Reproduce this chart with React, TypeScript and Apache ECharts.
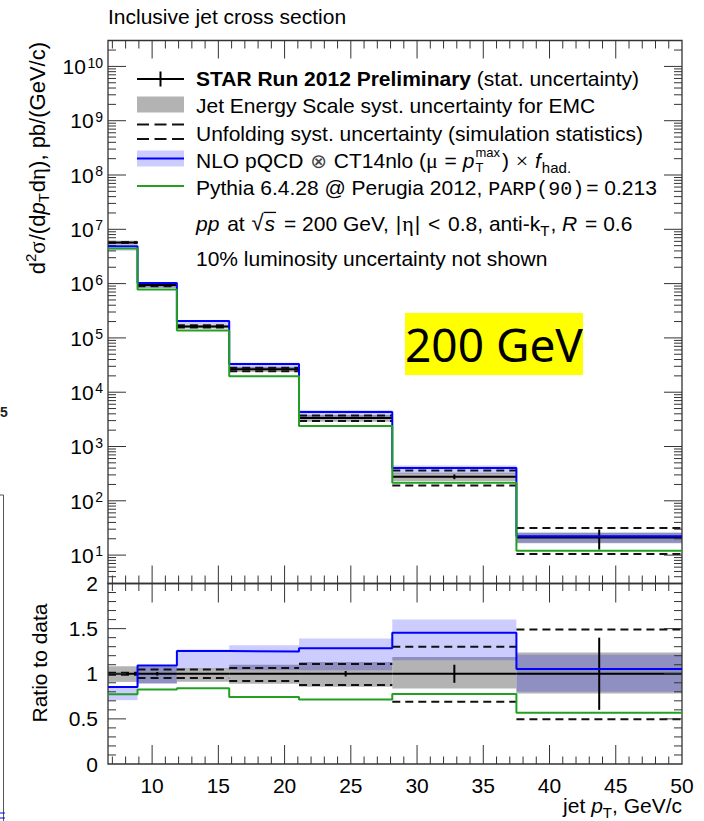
import React, { useEffect, useRef } from "react";
import * as echarts from "echarts";

// Jet pT bin edges, GeV/c
const binEdges = [6.67, 8.9, 11.87, 15.82, 21.09, 28.13, 37.5, 50];
// STAR Run 2012 measured cross section, pb/(GeV/c)
const starXsec = [5.7e6, 9.4e5, 1.63e5, 2.65e4, 3.35e3, 278, 21.1];
// relative statistical uncertainty
const starStatRel = [0.003, 0.02, 0.005, 0.005, 0.03, 0.1, 0.4];
// jet energy scale systematic band, relative to data
const jesLow = [0.91, 0.895, 0.91, 0.89, 0.855, 0.836, 0.78];
const jesHigh = [1.083, 1.08, 1.064, 1.1, 1.13, 1.185, 1.235];
// unfolding systematic, relative to data
const unfoldLow = [0.99, 0.954, 0.954, 0.92, 0.876, 0.69, 0.497];
const unfoldHigh = [1.01, 1.046, 1.046, 1.064, 1.108, 1.3, 1.49];
// NLO pQCD x f_had, pb/(GeV/c)
const nloXsec = [4.86e6, 1.025e6, 2.04e5, 3.3e4, 4.3e3, 404, 22.2];
// NLO scale band, as ratio to data
const nloBandLow = [0.707, 0.89, 1.06, 1.04, 1.04, 1.15, 0.8];
const nloBandHigh = [0.853, 1.09, 1.27, 1.315, 1.39, 1.6, 1.21];
// Pythia 6.4.28 Perugia 2012, pb/(GeV/c)
const pythiaXsec = [4.41e6, 7.76e5, 1.37e5, 1.97e4, 2.39e3, 216, 12.0];

const ptTickLabels = [10, 15, 20, 25, 30, 35, 40, 45, 50];
const ratioTickLabels = [0, 0.5, 1, 1.5, 2];
const xsecDecades = [1, 2, 3, 4, 5, 6, 7, 8, 9, 10];

const X_MIN = 6.67;
const X_MAX = 50;
const XS_MIN = 3;
const XS_MAX = 3e10;
const R_MIN = 0;
const R_MAX = 2;

const SANS = "'Liberation Sans', Arial, Helvetica, sans-serif";
const SERIF = "'Liberation Serif', 'Times New Roman', serif";
const MONO = "'Liberation Mono', 'Courier New', monospace";
const SYMBOL = "'DejaVu Sans', sans-serif";
const NOTO = "'Noto Sans', sans-serif";

// distance from the alphabetic baseline to the "central" baseline, in em
const CENTRAL_SHIFT: Record<string, number> = {
  [SANS]: 0.3467,
  [SERIF]: 0.3375,
  [MONO]: 0.2665,
  [SYMBOL]: 0.346,
  [NOTO]: 0.388,
};

const GRAY = "#b3b3b3";
const BLUE_BAND = "rgba(0,0,255,0.2)";
const BLUE = "#0000ff";
const GREEN = "#22a022";
const FRAME = "#333";

let measureCtx: CanvasRenderingContext2D | null = null;
function textWidth(text: string, size: number, family = SANS, bold = false, italic = false): number {
  if (!measureCtx) measureCtx = document.createElement("canvas").getContext("2d");
  if (!measureCtx) return text.length * size * 0.5;
  measureCtx.font = `${italic ? "italic " : ""}${bold ? "bold " : ""}${size}px ${family}`;
  return measureCtx.measureText(text).width;
}

function textEl(
  text: string,
  x: number,
  baseline: number,
  size: number,
  family = SANS,
  opts: { bold?: boolean; italic?: boolean; color?: string; align?: string } = {}
): any {
  const align = opts.align || "left";
  return {
    type: "text",
    x,
    y: baseline - (CENTRAL_SHIFT[family] ?? 0.35) * size,
    silent: true,
    style: {
      text,
      fontSize: size,
      fontFamily: family,
      fontWeight: opts.bold ? "bold" : "normal",
      fontStyle: opts.italic ? "italic" : "normal",
      fill: opts.color || "#000",
      align,
      textAlign: align,
      verticalAlign: "middle",
      textVerticalAlign: "middle",
    },
  };
}

type Run = {
  t: string;
  size?: number;
  bold?: boolean;
  italic?: boolean;
  family?: string;
  dy?: number;
  hold?: boolean;
  overline?: boolean;
  color?: string;
  gap?: number;
};

// lays text runs out left to right on a common baseline at local y = 0
function layoutRuns(runs: Run[], baseSize: number) {
  let x = 0;
  let heldEnd = -Infinity;
  const children: any[] = [];
  for (const r of runs) {
    const size = r.size ?? baseSize;
    const family = r.family ?? SANS;
    const w = textWidth(r.t, size, family, r.bold, r.italic);
    children.push(textEl(r.t, x, r.dy ?? 0, size, family, { bold: r.bold, italic: r.italic, color: r.color }));
    if (r.overline) {
      children.push({
        type: "line",
        silent: true,
        shape: { x1: x - 1, y1: -0.86 * size, x2: x + w + 1, y2: -0.86 * size },
        style: { stroke: "#000", lineWidth: 1.3 },
      });
    }
    if (r.hold) {
      heldEnd = Math.max(heldEnd, x + w);
    } else {
      x = Math.max(x + w, heldEnd) + (r.gap ?? 0);
      heldEnd = -Infinity;
    }
  }
  return { children, width: x };
}

function bandSeries(g: number, rows: number[][], fill: string): any {
  return {
    type: "custom",
    coordinateSystem: "cartesian2d",
    xAxisIndex: g,
    yAxisIndex: g,
    encode: { x: [0, 1], y: [2, 3] },
    silent: true,
    clip: false,
    data: rows,
    renderItem: (_p: any, api: any) => {
      const a = api.coord([api.value(0), api.value(3)]);
      const b = api.coord([api.value(1), api.value(2)]);
      return {
        type: "rect",
        shape: { x: a[0], y: a[1], width: b[0] - a[0], height: b[1] - a[1] },
        style: { fill },
      };
    },
  };
}

function dashedPairSeries(g: number, rows: number[][]): any {
  return {
    type: "custom",
    coordinateSystem: "cartesian2d",
    xAxisIndex: g,
    yAxisIndex: g,
    encode: { x: [0, 1], y: [2, 3] },
    silent: true,
    clip: false,
    data: rows,
    renderItem: (_p: any, api: any) => {
      const x0 = api.value(0);
      const x1 = api.value(1);
      const children = [api.value(2), api.value(3)].map((v: number) => {
        const a = api.coord([x0, v]);
        const b = api.coord([x1, v]);
        return {
          type: "line",
          shape: { x1: a[0], y1: a[1], x2: b[0], y2: b[1] },
          style: { stroke: "#111", lineWidth: 2, lineDash: [8, 5] },
        };
      });
      return { type: "group", children };
    },
  };
}

function stepSeries(g: number, vals: number[], color: string): any {
  return {
    type: "line",
    xAxisIndex: g,
    yAxisIndex: g,
    step: "end",
    symbol: "none",
    silent: true,
    clip: false,
    lineStyle: { color, width: 2 },
    data: binEdges.map((e, i) => [e, vals[Math.min(i, vals.length - 1)]]),
  };
}

function pointsSeries(g: number, vals: number[], rel: number[]): any {
  return {
    type: "custom",
    coordinateSystem: "cartesian2d",
    xAxisIndex: g,
    yAxisIndex: g,
    encode: { x: [0, 1], y: [2, 3, 4] },
    silent: true,
    clip: false,
    data: vals.map((v, i) => [binEdges[i], binEdges[i + 1], v, v * (1 - rel[i]), v * (1 + rel[i])]),
    renderItem: (_p: any, api: any) => {
      const x0 = api.value(0);
      const x1 = api.value(1);
      const v = api.value(2);
      const xc = (x0 + x1) / 2;
      const a = api.coord([x0, v]);
      const b = api.coord([x1, v]);
      const c1 = api.coord([xc, api.value(3)]);
      const c2 = api.coord([xc, api.value(4)]);
      return {
        type: "group",
        children: [
          { type: "line", shape: { x1: a[0], y1: a[1], x2: b[0], y2: b[1] }, style: { stroke: "#000", lineWidth: 2 } },
          { type: "line", shape: { x1: c1[0], y1: c1[1], x2: c2[0], y2: c2[1] }, style: { stroke: "#000", lineWidth: 2 } },
        ],
      };
    },
  };
}

// rows: [x, y, kind (0 = x tick, 1 = y tick), length]
function tickSeries(g: number, rows: number[][], yLo: number, yHi: number): any {
  return {
    type: "custom",
    coordinateSystem: "cartesian2d",
    xAxisIndex: g,
    yAxisIndex: g,
    encode: { x: 0, y: 1 },
    silent: true,
    clip: false,
    data: rows,
    renderItem: (_p: any, api: any) => {
      const kind = api.value(2);
      const len = api.value(3);
      const st = { stroke: FRAME, lineWidth: 1 };
      if (kind === 0) {
        const x = api.value(0);
        const b = api.coord([x, yLo]);
        const t = api.coord([x, yHi]);
        return {
          type: "group",
          children: [
            { type: "line", shape: { x1: b[0], y1: b[1], x2: b[0], y2: b[1] - len }, style: st },
            { type: "line", shape: { x1: t[0], y1: t[1], x2: t[0], y2: t[1] + len }, style: st },
          ],
        };
      }
      const y = api.value(1);
      const l = api.coord([X_MIN, y]);
      const r = api.coord([X_MAX, y]);
      return {
        type: "group",
        children: [
          { type: "line", shape: { x1: l[0], y1: l[1], x2: l[0] + len, y2: l[1] }, style: st },
          { type: "line", shape: { x1: r[0], y1: r[1], x2: r[0] - len, y2: r[1] }, style: st },
        ],
      };
    },
  };
}

function frameSeries(g: number, yLo: number, yHi: number): any {
  return {
    type: "custom",
    coordinateSystem: "cartesian2d",
    xAxisIndex: g,
    yAxisIndex: g,
    encode: { x: [0, 2], y: [1, 3] },
    silent: true,
    clip: false,
    data: [[X_MIN, yLo, X_MAX, yHi]],
    renderItem: (_p: any, api: any) => {
      const a = api.coord([api.value(0), api.value(3)]);
      const b = api.coord([api.value(2), api.value(1)]);
      return {
        type: "rect",
        shape: { x: a[0], y: a[1], width: b[0] - a[0], height: b[1] - a[1] },
        style: { fill: "none", stroke: FRAME, lineWidth: 1.3 },
      };
    },
  };
}

// "10^n" labels of the logarithmic cross-section axis
function logLabelSeries(): any {
  return {
    type: "custom",
    coordinateSystem: "cartesian2d",
    xAxisIndex: 0,
    yAxisIndex: 0,
    encode: { x: 0, y: 1 },
    silent: true,
    clip: false,
    data: xsecDecades.map((k) => [X_MIN, Math.pow(10, k)]),
    renderItem: (p: any, api: any) => {
      const pt = api.coord([api.value(0), api.value(1)]);
      const exp = String(xsecDecades[p.dataIndex]);
      const right = pt[0] - 5;
      const ew = textWidth(exp, 14);
      return {
        type: "group",
        children: [
          textEl(exp, right, pt[1] + 1, 14, SANS, { align: "right" }),
          textEl("10", right - ew - 1.5, pt[1] + 7.5, 21, SANS, { align: "right" }),
        ],
      };
    },
  };
}

function buildOption(): any {
  const ones = starXsec.map(() => 1);
  const nloRatio = nloXsec.map((v, i) => v / starXsec[i]);
  const pythiaRatio = pythiaXsec.map((v, i) => v / starXsec[i]);
  const rowsFor = (lo: number[], hi: number[], scale: number[]) =>
    lo.map((l, i) => [binEdges[i], binEdges[i + 1], l * scale[i], hi[i] * scale[i]]);

  const xTicks = (yRef: number, major: number, minor: number) => {
    const rows: number[][] = [];
    for (let v = 7; v < 50; v++) rows.push([v, yRef, 0, v % 5 === 0 ? major : minor]);
    return rows;
  };
  const topTicks = xTicks(10, 18, 8);
  for (let k = 0; k <= 10; k++) {
    for (let m = 1; m <= 9; m++) {
      const v = m * Math.pow(10, k);
      if (v >= XS_MIN && v <= XS_MAX) topTicks.push([10, v, 1, m === 1 ? 18 : 8]);
    }
  }
  const ratioTicks = xTicks(1, 19, 7.5);
  for (let j = 1; j < 20; j++) ratioTicks.push([10, j / 10, 1, j % 5 === 0 ? 18 : 8]);

  const hidden = {
    axisLine: { show: false },
    axisTick: { show: false },
    splitLine: { show: false },
  };

  // legend text rows
  const legendRows: { baseline: number; runs: Run[] }[] = [
    { baseline: 86, runs: [{ t: "STAR Run 2012 Preliminary", bold: true }, { t: " (stat. uncertainty)" }] },
    { baseline: 113, runs: [{ t: "Jet Energy Scale syst. uncertainty for EMC" }] },
    { baseline: 140.5, runs: [{ t: "Unfolding syst. uncertainty (simulation statistics)" }] },
    {
      baseline: 167.5,
      runs: [
        { t: "NLO pQCD ", gap: 1 },
        { t: "\u2297", family: SYMBOL, size: 20, color: "#444", gap: 1 },
        { t: " CT14nlo (" },
        { t: "\u03bc", family: SERIF, size: 22, gap: 1 },
        { t: " = " },
        { t: "p", italic: true, gap: 1 },
        { t: "T", size: 13, dy: 4.5, hold: true },
        { t: "max", size: 13, dy: -10.3, gap: 2 },
        { t: ") ", gap: 1 },
        { t: "\u00d7", family: SERIF, size: 22, gap: 1 },
        { t: " " },
        { t: "f", italic: true, gap: 1 },
        { t: "had.", size: 15, dy: 5 },
      ],
    },
    {
      baseline: 195,
      runs: [{ t: "Pythia 6.4.28 @ Perugia 2012, " }, { t: "PARP(90)", family: MONO, size: 20, gap: 2 }, { t: "= 0.213" }],
    },
    {
      baseline: 230.5,
      runs: [
        { t: "pp", italic: true, gap: 2 },
        { t: " at ", gap: 1 },
        { t: "\u221a", size: 22, gap: 1 },
        { t: "s", italic: true, overline: true, gap: 3 },
        { t: " = 200 GeV, ", gap: 1 },
        { t: "|", gap: 1 },
        { t: "\u03b7", family: SERIF, size: 22, gap: 1 },
        { t: "|", gap: 2 },
        { t: " < ", gap: 2 },
        { t: "0.8, anti-k" },
        { t: "T", size: 15, dy: 5, gap: 1 },
        { t: ", " },
        { t: "R", italic: true, gap: 2 },
        { t: " = 0.6" },
      ],
    },
    { baseline: 266, runs: [{ t: "10% luminosity uncertainty not shown" }] },
  ];

  const legendText = legendRows.map((r) => ({
    type: "group",
    x: 196,
    y: r.baseline,
    children: layoutRuns(r.runs, 21).children,
  }));

  const legendSymbols: any[] = [
    { type: "line", shape: { x1: 137, y1: 79, x2: 184, y2: 79 }, style: { stroke: "#000", lineWidth: 2 } },
    { type: "line", shape: { x1: 160.5, y1: 71.5, x2: 160.5, y2: 86.5 }, style: { stroke: "#000", lineWidth: 2 } },
    { type: "rect", shape: { x: 137, y: 96.5, width: 47, height: 16 }, style: { fill: GRAY } },
    { type: "line", shape: { x1: 137, y1: 124.5, x2: 184, y2: 124.5 }, style: { stroke: "#111", lineWidth: 2, lineDash: [12, 5.5] } },
    { type: "line", shape: { x1: 137, y1: 139, x2: 184, y2: 139 }, style: { stroke: "#111", lineWidth: 2, lineDash: [12, 5.5] } },
    { type: "rect", shape: { x: 137, y: 150.5, width: 47, height: 16 }, style: { fill: BLUE_BAND } },
    { type: "line", shape: { x1: 137, y1: 158.5, x2: 184, y2: 158.5 }, style: { stroke: BLUE, lineWidth: 2 } },
    { type: "line", shape: { x1: 137, y1: 186, x2: 184, y2: 186 }, style: { stroke: GREEN, lineWidth: 2 } },
  ];

  const yTitle = layoutRuns(
    [
      { t: "d" },
      { t: "2", size: 15, dy: -9 },
      { t: "\u03c3", family: SERIF, size: 23, gap: 1 },
      { t: "/(d" },
      { t: "p", italic: true },
      { t: "T", size: 15, dy: 4, gap: 1 },
      { t: "d" },
      { t: "\u03b7", family: SERIF, size: 23 },
      { t: "), pb/(GeV/c)" },
    ],
    22
  );
  const ratioTitle = layoutRuns([{ t: "Ratio to data" }], 21);
  const xTitle = layoutRuns([{ t: "jet " }, { t: "p", italic: true }, { t: "T", size: 15, dy: 5 }, { t: ", GeV/c" }], 21);

  const graphics: any[] = [
    textEl("Inclusive jet cross section", 108, 23.5, 21),
    ...legendSymbols,
    ...legendText,
    { type: "rect", shape: { x: 405, y: 313, width: 178, height: 62 }, style: { fill: "#ffff00" } },
    textEl("200 GeV", 494, 361.5, 46, NOTO, { align: "center" }),
    { type: "group", x: 45, y: 42 + yTitle.width, rotation: Math.PI / 2, children: yTitle.children },
    { type: "group", x: 46.5, y: 663 + ratioTitle.width / 2, rotation: Math.PI / 2, children: ratioTitle.children },
    { type: "group", x: 682 - xTitle.width, y: 813, children: xTitle.children },
    // edge of the neighbouring panel
    textEl("5", 0, 417, 14, SANS, { bold: true, color: "#222" }),
    { type: "line", shape: { x1: 3.5, y1: 495, x2: 3.5, y2: 821 }, style: { stroke: "#555", lineWidth: 1 } },
    { type: "line", shape: { x1: 0, y1: 495, x2: 3.5, y2: 495 }, style: { stroke: "#555", lineWidth: 1 } },
    { type: "line", shape: { x1: 0, y1: 813, x2: 5, y2: 813 }, style: { stroke: BLUE, lineWidth: 1 } },
    { type: "line", shape: { x1: 0, y1: 818, x2: 5, y2: 818 }, style: { stroke: BLUE, lineWidth: 1 } },
  ];

  return {
    animation: false,
    backgroundColor: "#fff",
    grid: [
      { left: 108, top: 40.5, width: 574, height: 543 },
      { left: 108, top: 583.5, width: 574, height: 180.5 },
    ],
    xAxis: [
      { gridIndex: 0, type: "value", min: X_MIN, max: X_MAX, show: false },
      {
        gridIndex: 1,
        type: "value",
        min: X_MIN,
        max: X_MAX,
        ...hidden,
        axisLabel: {
          customValues: ptTickLabels,
          fontSize: 21,
          fontFamily: SANS,
          color: "#000",
          margin: 11,
        },
      },
    ],
    yAxis: [
      { gridIndex: 0, type: "log", logBase: 10, min: XS_MIN, max: XS_MAX, show: false },
      {
        gridIndex: 1,
        type: "value",
        min: R_MIN,
        max: R_MAX,
        ...hidden,
        axisLabel: {
          customValues: ratioTickLabels,
          fontSize: 21,
          fontFamily: SANS,
          color: "#000",
          margin: 10,
        },
      },
    ],
    graphic: { elements: graphics },
    series: [
      // cross-section panel
      bandSeries(0, rowsFor(jesLow, jesHigh, starXsec), GRAY),
      bandSeries(0, rowsFor(nloBandLow, nloBandHigh, starXsec), BLUE_BAND),
      dashedPairSeries(0, rowsFor(unfoldLow, unfoldHigh, starXsec)),
      stepSeries(0, nloXsec, BLUE),
      stepSeries(0, pythiaXsec, GREEN),
      pointsSeries(0, starXsec, starStatRel),
      tickSeries(0, topTicks, XS_MIN, XS_MAX),
      frameSeries(0, XS_MIN, XS_MAX),
      logLabelSeries(),
      // ratio panel
      bandSeries(1, rowsFor(jesLow, jesHigh, ones), GRAY),
      bandSeries(1, rowsFor(nloBandLow, nloBandHigh, ones), BLUE_BAND),
      dashedPairSeries(1, rowsFor(unfoldLow, unfoldHigh, ones)),
      stepSeries(1, nloRatio, BLUE),
      stepSeries(1, pythiaRatio, GREEN),
      pointsSeries(1, ones, starStatRel),
      tickSeries(1, ratioTicks, R_MIN, R_MAX),
      frameSeries(1, R_MIN, R_MAX),
    ],
  };
}

export default function App() {
  const ref = useRef<HTMLDivElement>(null);
  useEffect(() => {
    if (!ref.current) return;
    const chart = echarts.init(ref.current, null, { renderer: "svg" });
    chart.setOption(buildOption());
    return () => chart.dispose();
  }, []);
  return (
    <div
      ref={ref}
      style={{ position: "absolute", left: 0, top: 0, width: 704, height: 821, background: "#fff" }}
    />
  );
}
